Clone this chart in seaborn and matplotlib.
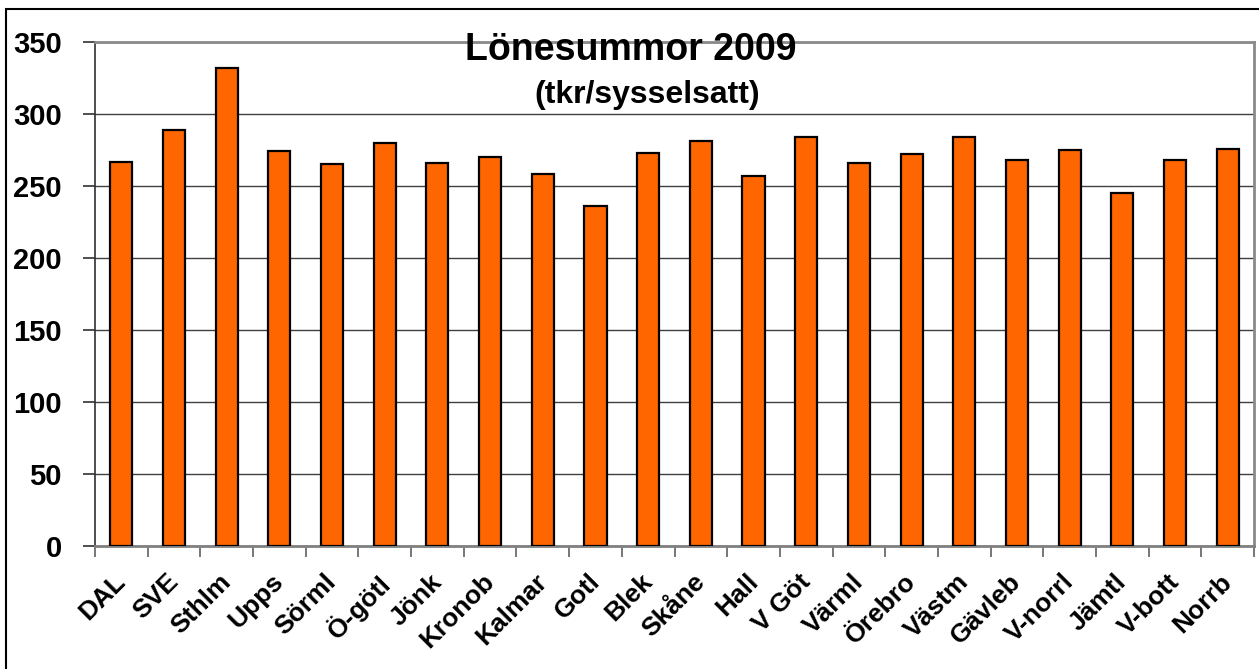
import seaborn as sns
import matplotlib.pyplot as plt
import matplotlib.transforms as mtransforms
import pandas as pd
from matplotlib.patches import Rectangle

# Lönesummor per region 2009 (tkr/sysselsatt)
regions = ["DAL", "SVE", "Sthlm", "Upps", "Sörml", "Ö-götl", "Jönk", "Kronob",
           "Kalmar", "Gotl", "Blek", "Skåne", "Hall", "V Göt", "Värml", "Örebro",
           "Västm", "Gävleb", "V-norrl", "Jämtl", "V-bott", "Norrb"]
values = [267, 289, 332, 274, 265, 280, 266, 270,
          258, 236, 273, 281, 257, 284, 266, 272,
          284, 268, 275, 245, 268, 276]
yticks = [0, 50, 100, 150, 200, 250, 300, 350]

df = pd.DataFrame({"region": regions, "value": values})

plt.rcParams['font.family'] = ['Liberation Sans', 'DejaVu Sans']
plt.rcParams['font.weight'] = 'bold'

fig = plt.figure(figsize=(12.59, 6.69), dpi=100)
ax = fig.add_axes([95 / 1259, 123 / 669, 1159 / 1259, 504 / 669])

sns.barplot(data=df, x="region", y="value", color="#FF6600", saturation=1,
            width=0.42, edgecolor="black", linewidth=1.6, ax=ax, zorder=3)

# axis limits and grid
ax.set_xlim(-0.5, len(regions) - 0.5)
ax.set_ylim(0, 350)
ax.set_yticks(yticks)
ax.set_yticklabels([str(t) for t in yticks], fontsize=21, fontweight='bold')
ax.yaxis.grid(True, color="#404040", linewidth=1.0, zorder=0)
ax.set_axisbelow(True)
ax.set_xlabel("")
ax.set_ylabel("")

# x tick marks sit between the bars
ax.set_xticks(range(len(regions)))
ax.set_xticklabels(regions, rotation=45, ha='right', va='top',
                   rotation_mode='anchor', fontsize=19, fontweight='bold')
ax.set_xticks([i - 0.5 for i in range(len(regions) + 1)], minor=True)
ax.tick_params(axis='x', which='major', length=0, pad=17)
ax.tick_params(axis='x', which='minor', length=8, width=1.2, color="#606060")
ax.tick_params(axis='y', length=9, width=1.2, color="#303030", pad=15)

# nudge the slanted labels a little to the left
shift = mtransforms.ScaledTranslation(-8 / 100, 0, fig.dpi_scale_trans)
for lbl in ax.get_xticklabels():
    lbl.set_transform(lbl.get_transform() + shift)

for side in ["top", "right"]:
    ax.spines[side].set_color("#8a8a8a")
    ax.spines[side].set_linewidth(2)
ax.spines["left"].set_color("#303030")
ax.spines["left"].set_linewidth(1.2)
ax.spines["bottom"].set_color("#808080")
ax.spines["bottom"].set_linewidth(2)

# title inside the plot area
fig.text(631 / 1259, (669 - 60) / 669, "Lönesummor 2009", ha='center',
         va='baseline', fontsize=27, fontweight='bold')
fig.text(647 / 1259, (669 - 103) / 669, "(tkr/sysselsatt)", ha='center',
         va='baseline', fontsize=23, fontweight='bold')

# outer frame of the chart object
fig.patches.append(Rectangle((6 / 1259, -0.1), 1.2, (669 - 9) / 669 + 0.1,
                             transform=fig.transFigure, fill=False,
                             edgecolor="black", linewidth=1.5))

plt.savefig('out.png', dpi=100)
